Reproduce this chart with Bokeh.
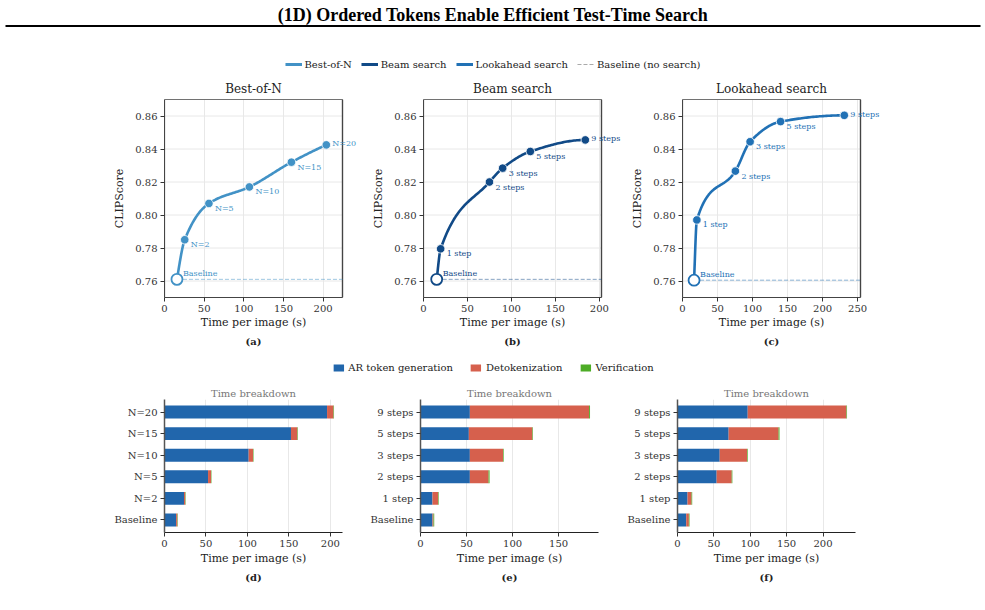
import numpy as np
from bokeh.plotting import figure
from bokeh.models import (ColumnDataSource, Range1d, FixedTicker, Label, LinearAxis,
                          Legend, LegendItem, Title, PrintfTickFormatter)
from bokeh.layouts import row, column
from bokeh.embed import file_html
from bokeh.resources import INLINE
from bokeh.core.properties import value

SERIF = "DejaVu Serif"

# ---------------- data ----------------
main_title = "(1D) Ordered Tokens Enable Efficient Test-Time Search"

bon_labels = ["Baseline", "N=2", "N=5", "N=10", "N=15", "N=20"]
bon_time = [15.7, 25.5, 56.0, 107.0, 160.0, 204.0]
bon_clip = [0.761, 0.785, 0.807, 0.817, 0.832, 0.8425]

beam_labels = ["Baseline", "1 step", "2 steps", "3 steps", "5 steps", "9 steps"]
beam_time = [15.0, 19.5, 75.0, 90.0, 121.5, 184.0]
beam_clip = [0.761, 0.7795, 0.820, 0.8284, 0.8385, 0.8455]

look_labels = ["Baseline", "1 step", "2 steps", "3 steps", "5 steps", "9 steps"]
look_time = [16.5, 20.5, 75.5, 96.5, 140.0, 231.0]
look_clip = [0.7605, 0.797, 0.8266, 0.8444, 0.8566, 0.8604]

bon_ar = [14.0, 23.5, 52.5, 101.5, 152.5, 196.0]
bon_detok = [1.5, 1.5, 3.6, 5.2, 7.7, 7.8]
bon_verif = [0.5, 0.5, 0.5, 0.6, 0.6, 0.6]

beam_ar = [13.0, 13.0, 53.6, 53.6, 52.5, 53.6]
beam_detok = [1.1, 6.2, 20.3, 36.0, 69.0, 129.5]
beam_verif = [0.8, 0.6, 1.1, 0.7, 0.6, 1.0]

look_ar = [12.0, 13.8, 53.8, 58.0, 70.3, 96.5]
look_detok = [3.6, 5.5, 20.7, 37.6, 68.6, 135.7]
look_verif = [0.9, 0.9, 0.9, 0.9, 1.3, 0.8]

clip_ticks = [0.76, 0.78, 0.80, 0.82, 0.84, 0.86]

series_names = ["Best-of-N", "Beam search", "Lookahead search"]
baseline_name = "Baseline (no search)"
stage_names = ["AR token generation", "Detokenization", "Verification"]
x_title = "Time per image (s)"
y_title = "CLIPScore"

# ---------------- styles ----------------
C_BON = "#4292c6"
C_BEAM = "#114a87"
C_LOOK = "#2171b5"
BAR_COLORS = ["#2166ac", "#d6604d", "#4dac26"]
FRAME_C = "#444444"
GRID_C = "#e8e8e8"
EXT = 22  # extra frame room (px) right of the box so point labels are not clipped
Y0, Y1 = 0.75, 0.87


def pchip_curve(x, y, per_seg=40):
    x = np.asarray(x, float)
    y = np.asarray(y, float)
    h = np.diff(x)
    d = np.diff(y) / h
    m = np.zeros_like(x)
    for k in range(1, len(x) - 1):
        if d[k - 1] * d[k] > 0:
            w1 = 2 * h[k] + h[k - 1]
            w2 = h[k] + 2 * h[k - 1]
            m[k] = (w1 + w2) / (w1 / d[k - 1] + w2 / d[k])

    def edge(h0, h1, d0, d1):
        v = ((2 * h0 + h1) * d0 - h0 * d1) / (h0 + h1)
        if np.sign(v) != np.sign(d0):
            v = 0.0
        elif np.sign(d0) != np.sign(d1) and abs(v) > abs(3 * d0):
            v = 3 * d0
        return v

    m[0] = edge(h[0], h[1], d[0], d[1])
    m[-1] = edge(h[-1], h[-2], d[-1], d[-2])
    xs, ys = [], []
    t = np.linspace(0, 1, per_seg)
    for k in range(len(h)):
        h00 = 2 * t**3 - 3 * t**2 + 1
        h10 = t**3 - 2 * t**2 + t
        h01 = -2 * t**3 + 3 * t**2
        h11 = t**3 - t**2
        xs.extend(x[k] + t * h[k])
        ys.extend(h00 * y[k] + h10 * h[k] * m[k] + h01 * y[k + 1] + h11 * h[k] * m[k + 1])
    return xs, ys


def style_axis(ax):
    ax.major_label_text_font = SERIF
    ax.major_label_text_font_size = "10px"
    ax.major_label_text_color = "#333333"
    ax.axis_label_text_font = SERIF
    ax.axis_label_text_font_size = "11px"
    ax.axis_label_text_font_style = "normal"
    ax.axis_label_text_color = "#222222"
    ax.major_tick_out = 4
    ax.major_tick_in = 0
    ax.minor_tick_out = 0
    ax.minor_tick_in = 0
    ax.major_label_standoff = 3
    ax.major_tick_line_color = "#333333"


def caption_axis(text, center, size, bold, standoff, color="#222222"):
    # an axis without line or tick marks whose single tick label is a caption
    # centred on the data box (not on the wider frame)
    c = round(float(center), 3)
    return LinearAxis(ticker=FixedTicker(ticks=[c]), major_label_overrides={c: text},
                      axis_line_color=None, major_tick_line_color=None,
                      major_tick_out=0, major_tick_in=0, minor_tick_out=0, minor_tick_in=0,
                      major_label_standoff=standoff, major_label_text_font=SERIF,
                      major_label_text_font_size=size,
                      major_label_text_font_style="bold" if bold else "normal",
                      major_label_text_color=color)


def top_panel(title, labels, times, clips, color, xticks, letter, left, right):
    xend = 1.1 * max(times)
    fw = 178 + EXT
    xmax = xend * fw / 178.0
    p = figure(frame_width=fw, frame_height=198, min_border_left=left,
               min_border_right=right - EXT, min_border_top=24, min_border_bottom=53,
               x_range=Range1d(0, xmax), y_range=Range1d(Y0, Y1),
               output_backend="svg", toolbar_location=None)
    p.outline_line_color = None
    style_axis(p.xaxis[0])
    style_axis(p.yaxis[0])
    p.xaxis.bounds = (0, xend)
    p.xaxis.axis_line_color = FRAME_C
    p.yaxis.axis_line_color = FRAME_C
    p.xaxis.ticker = FixedTicker(ticks=xticks)
    p.yaxis.ticker = FixedTicker(ticks=clip_ticks)
    p.yaxis.formatter = PrintfTickFormatter(format="%.2f")
    p.yaxis.axis_label = y_title
    p.yaxis.axis_label_standoff = 6
    p.xgrid.grid_line_color = GRID_C
    p.ygrid.visible = False
    # horizontal grid lines limited to the box
    k = len(clip_ticks)
    p.segment(x0=[0] * k, y0=clip_ticks, x1=[xend] * k, y1=clip_ticks,
              line_color=GRID_C, line_width=1, level="underlay")
    # box outline (top/right edges; left/bottom come from the axes)
    p.quad(left=[0], right=[xend], bottom=[Y0], top=[Y1], fill_alpha=0,
           line_color=FRAME_C, line_width=1.2)
    p.line(x=[0, xend, xend], y=[Y1, Y1, Y0], line_color=FRAME_C, line_width=1.2)
    # captions centred on the box
    p.add_layout(caption_axis(title, xend / 2, "12px", False, 4), "above")
    p.add_layout(caption_axis(x_title, xend / 2, "11px", False, 1), "below")
    p.add_layout(caption_axis(letter, xend / 2, "10px", True, 4), "below")

    p.segment(x0=[times[0]], y0=[clips[0]], x1=[xend], y1=[clips[0]],
              line_color=color, line_alpha=0.5, line_width=1, line_dash="4 2")
    cx, cy = pchip_curve(times, clips)
    p.line(cx, cy, line_color=color, line_width=2.6, line_join="round", line_cap="round")
    p.scatter(times[1:], clips[1:], size=8.5, fill_color=color, line_color="white", line_width=0.8)
    p.scatter([times[0]], [clips[0]], size=11, fill_color="white", line_color=color, line_width=1.8)

    n = len(labels)
    for i, (tx, ty, lab) in enumerate(zip(times, clips, labels)):
        yo = -5
        if i == 0:
            yo = 6
        elif i == n - 1:
            yo = 1
        p.add_layout(Label(x=tx, y=ty, text=lab, x_offset=6, y_offset=yo,
                           text_font=SERIF, text_font_size="8px",
                           text_color=color, text_baseline="middle"))
    return p


def bar_panel(cats, ar, detok, verif, xticks, letter, left, right):
    totals = [a + b + c for a, b, c in zip(ar, detok, verif)]
    n = len(cats)
    p = figure(frame_width=178, frame_height=133, min_border_left=left,
               min_border_right=right, min_border_top=15, min_border_bottom=58,
               x_range=Range1d(0, 1.05 * max(totals)),
               y_range=Range1d(-0.58, n - 1 + 0.58),
               output_backend="svg", toolbar_location=None)
    p.title.text = "Time breakdown"
    p.title.align = "center"
    p.title.text_font = SERIF
    p.title.text_font_size = "10px"
    p.title.text_font_style = "normal"
    p.title.text_color = "#777777"
    p.title.standoff = 2
    p.outline_line_color = None
    style_axis(p.xaxis[0])
    style_axis(p.yaxis[0])
    p.yaxis.axis_line_color = "#555555"
    p.yaxis.axis_line_width = 1.5
    p.xaxis.axis_line_color = "#222222"
    p.xaxis.axis_line_width = 1.2
    p.xaxis.ticker = FixedTicker(ticks=xticks)
    p.yaxis.ticker = FixedTicker(ticks=list(range(n)))
    p.yaxis.major_label_overrides = {i: c for i, c in enumerate(cats)}
    p.xaxis.axis_label = x_title
    p.xaxis.axis_label_standoff = 2
    p.ygrid.grid_line_color = None
    p.xgrid.grid_line_color = GRID_C
    src = ColumnDataSource(dict(y=list(range(n)), ar=ar, detok=detok, verif=verif))
    p.hbar_stack(["ar", "detok", "verif"], y="y", height=0.6, source=src,
                 fill_color=BAR_COLORS, line_color=None)
    p.add_layout(Title(text=letter, align="center", text_font=SERIF,
                       text_font_size="10px", text_font_style="bold",
                       text_color="#222222", standoff=4), "below")
    return p


# ---------------- header ----------------
header = figure(width=985, height=75, x_range=Range1d(0, 985), y_range=Range1d(75, 0),
                min_border=0, output_backend="svg", toolbar_location=None,
                x_axis_location=None, y_axis_location=None)
header.outline_line_color = None
header.grid.visible = False
header.text(x=[492.5], y=[14], text=[main_title], text_font=value("Liberation Serif"),
            text_font_style="bold", text_font_size="18px", text_align="center",
            text_baseline="middle", text_color="black")
header.segment(x0=[5], y0=[25.5], x1=[980], y1=[25.5], line_width=2, line_color="black")
leg_items = []
for name, c in zip(series_names, [C_BON, C_BEAM, C_LOOK]):
    r = header.line(x=[-200, -100], y=[-200, -200], line_color=c, line_width=3)
    leg_items.append(LegendItem(label=name, renderers=[r]))
rb = header.line(x=[-200, -100], y=[-200, -200], line_color="#aaaaaa", line_width=1,
                 line_dash="4 2")
leg_items.append(LegendItem(label=baseline_name, renderers=[rb]))
header.add_layout(Legend(items=leg_items, location="bottom_center", orientation="horizontal",
                         glyph_width=17, glyph_height=12, label_height=12, label_standoff=3,
                         spacing=9, padding=2, margin=5, border_line_color=None,
                         background_fill_alpha=0, label_text_font=SERIF,
                         label_text_font_size="10px", label_text_color="#222222"))

# ---------------- top row ----------------
pa = top_panel("Best-of-N", bon_labels, bon_time, bon_clip, C_BON,
               [0, 50, 100, 150, 200], "(a)", 164, 27)
pb = top_panel("Beam search", beam_labels, beam_time, beam_clip, C_BEAM,
               [0, 50, 100, 150, 200], "(b)", 50, 27)
pc = top_panel("Lookahead search", look_labels, look_time, look_clip, C_LOOK,
               [0, 50, 100, 150, 200, 250], "(c)", 50, 133)

# ---------------- middle legend ----------------
mid = figure(width=985, height=34, x_range=Range1d(0, 1), y_range=Range1d(0, 1),
             min_border=0, output_backend="svg", toolbar_location=None,
             x_axis_location=None, y_axis_location=None)
mid.outline_line_color = None
mid.grid.visible = False
mitems = []
for name, c in zip(stage_names, BAR_COLORS):
    r = mid.hbar(y=[-5], left=[-5], right=[-4], height=0.5, fill_color=c, line_color=None)
    mitems.append(LegendItem(label=name, renderers=[r]))
mid.add_layout(Legend(items=mitems, location="center", orientation="horizontal",
                      glyph_width=13, glyph_height=9, label_height=12, label_standoff=4,
                      spacing=16, padding=0, margin=0, border_line_color=None,
                      background_fill_alpha=0, label_text_font=SERIF,
                      label_text_font_size="10px", label_text_color="#222222"))

# ---------------- bottom row ----------------
pd_ = bar_panel(bon_labels, bon_ar, bon_detok, bon_verif, [0, 50, 100, 150, 200], "(d)", 164, 25)
pe = bar_panel(beam_labels, beam_ar, beam_detok, beam_verif, [0, 50, 100, 150], "(e)", 52, 26)
pf = bar_panel(look_labels, look_ar, look_detok, look_verif, [0, 50, 100, 150, 200], "(f)", 52, 132)

layout = column(header, row(pa, pb, pc), mid, row(pd_, pe, pf))

with open("out.html", "w") as f:
    f.write(file_html(layout, INLINE))
